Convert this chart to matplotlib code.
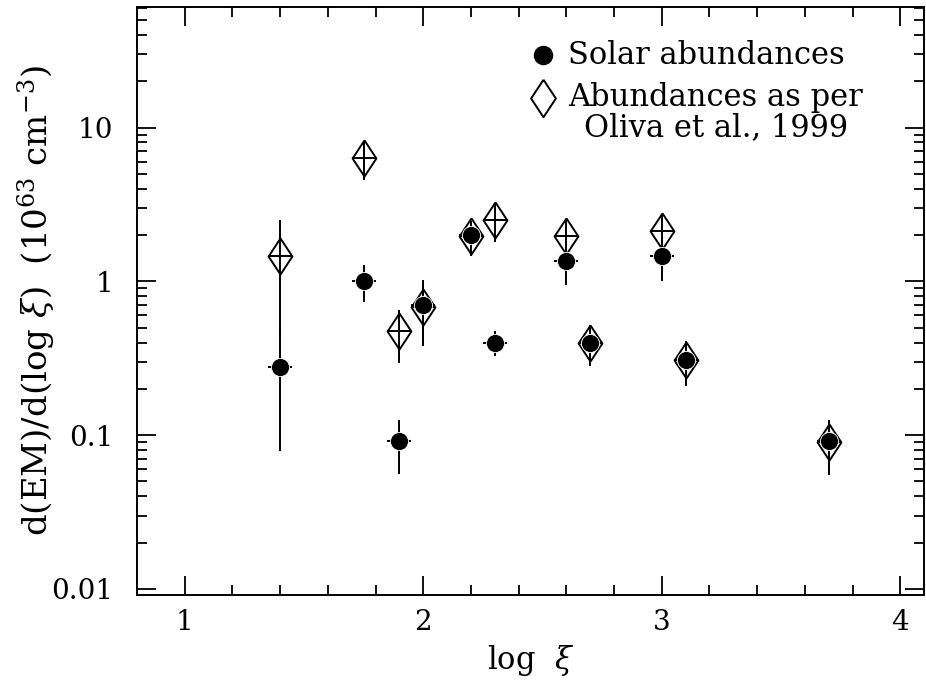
import numpy as np
import matplotlib
matplotlib.use("Agg")
import matplotlib.pyplot as plt
from matplotlib.ticker import FixedLocator, LogLocator, NullFormatter

# log xi positions
x_solar = [1.4, 1.75, 1.9, 2.0, 2.2, 2.3, 2.6, 2.7, 3.0, 3.1, 3.7]
y_solar = [0.277, 1.0, 0.091, 0.70, 2.0, 0.40, 1.35, 0.40, 1.46, 0.31, 0.091]
yerr_solar = [0.198, 0.27, 0.035, 0.32, 0.25, 0.075, 0.41, 0.12, 0.45, 0.10, 0.035]

x_oliva = [1.4, 1.75, 1.9, 2.0, 2.2, 2.3, 2.6, 2.7, 3.0, 3.1, 3.7]
y_oliva = [1.47, 6.3, 0.474, 0.68, 1.97, 2.49, 1.96, 0.40, 2.11, 0.31, 0.09]
yerr_oliva = [1.02, 1.75, 0.18, 0.30, 0.5, 0.7, 0.55, 0.12, 0.6, 0.10, 0.035]

xerr = 0.05

plt.rcParams['font.family'] = ['DejaVu Serif']
plt.rcParams['mathtext.fontset'] = 'dejavuserif'

fig = plt.figure(figsize=(9.26, 6.83), dpi=100)
ax = fig.add_axes([0.148, 0.129, 0.850, 0.861])

diamond = [(0, 1), (0.66, 0), (0, -1), (-0.66, 0), (0, 1)]
lw = 1.4

ax.errorbar(x_oliva, y_oliva, xerr=xerr, yerr=yerr_oliva, fmt='none',
            ecolor='k', elinewidth=lw, capsize=0)
ax.plot(x_oliva, y_oliva, linestyle='none', marker=diamond, ms=26,
        mfc='none', mec='k', mew=lw)

ax.errorbar(x_solar, y_solar, xerr=xerr, yerr=yerr_solar, fmt='none',
            ecolor='k', elinewidth=lw, capsize=0)
ax.plot(x_solar, y_solar, linestyle='none', marker='o', ms=13,
        mfc='k', mec='white', mew=0.6)

ax.set_yscale('log')
ax.set_xlim(0.8, 4.1)
ax.set_ylim(0.00914, 61)

ax.xaxis.set_major_locator(FixedLocator([1, 2, 3, 4]))
ax.xaxis.set_minor_locator(FixedLocator(np.arange(0.8, 4.11, 0.2)))
ax.yaxis.set_major_locator(FixedLocator([0.01, 0.1, 1, 10]))
ax.yaxis.set_minor_locator(LogLocator(base=10, subs=np.arange(2, 10)))
ax.yaxis.set_minor_formatter(NullFormatter())
ax.set_yticklabels(['0.01', '0.1', '1', '10'])
ax.set_xticklabels(['1', '2', '3', '4'])

ax.tick_params(which='both', direction='in', top=True, right=True,
               width=1.3, labelsize=20)
ax.tick_params(which='major', length=14)
ax.tick_params(which='minor', length=7)
ax.tick_params(axis='x', which='major', pad=10)
ax.tick_params(axis='y', which='major', pad=17)
for s in ax.spines.values():
    s.set_linewidth(1.4)

ax.set_xlabel(r'log  $\xi$', fontsize=22, labelpad=5)
ax.set_ylabel(r'd(EM)/d(log $\xi$)  (10$^{63}$ cm$^{-3}$)', fontsize=24.5,
              labelpad=-5)

# legend drawn by hand
ax.plot([0.516], [0.918], transform=ax.transAxes, marker='o', ms=13,
        color='k', clip_on=False)
ax.plot([0.516], [0.845], transform=ax.transAxes, marker=diamond, ms=27,
        mfc='none', mec='k', mew=lw, clip_on=False)
ax.text(0.548, 0.918, 'Solar abundances', transform=ax.transAxes,
        fontsize=22, ha='left', va='center')
ax.text(0.548, 0.820, 'Abundances as per\nOliva et al., 1999',
        transform=ax.transAxes, fontsize=22, ha='left', va='center',
        multialignment='center', linespacing=0.95)

fig.savefig('out.png', dpi=100)
